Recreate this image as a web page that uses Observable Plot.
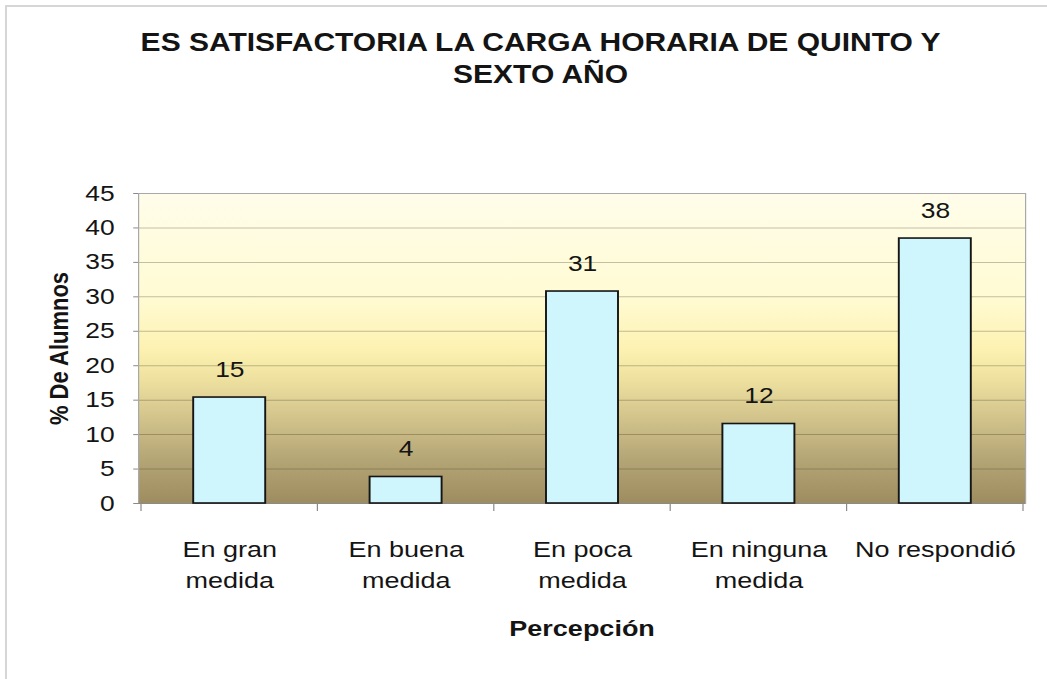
<!DOCTYPE html>
<html><head><meta charset="utf-8">
<script src="https://cdn.jsdelivr.net/npm/d3@7"></script>
<script src="https://cdn.jsdelivr.net/npm/@observablehq/plot@0.6"></script>
<style>
html,body{margin:0;padding:0;background:#fff;}
#chart{position:relative;width:1047px;height:679px;overflow:hidden;}
#chart svg{display:block;}
#border{position:absolute;left:5px;top:5px;right:-10px;bottom:-10px;border-top:2px solid #d6d6d6;border-left:2px solid #d6d6d6;pointer-events:none;}
</style></head><body>
<div id="chart"><div id="border"></div></div>
<script>
const categorias = ["En gran\nmedida", "En buena\nmedida", "En poca\nmedida", "En ninguna\nmedida", "No respondió"];
const porcentajes = [15.38, 3.85, 30.77, 11.54, 38.46];
const etiquetas = ["15", "4", "31", "12", "38"];
const yTicks = [0, 5, 10, 15, 20, 25, 30, 35, 40, 45];
const titulo = ["ES SATISFACTORIA LA CARGA HORARIA DE QUINTO Y", "SEXTO AÑO"];
const tituloY = "% De Alumnos";
const tituloX = "Percepción";

const SX = 1.2;            // the scanned original is stretched horizontally
const W = 1047, H = 679;
const VW = W / SX;
const FONT = "'Liberation Sans', Arial, Helvetica, sans-serif";

const data = categorias.map((c, i) => ({c, v: porcentajes[i], t: etiquetas[i]}));

function gradiente() {
  const defs = d3.create("svg:defs");
  const lg = defs.append("linearGradient").attr("id", "fondo")
    .attr("x1", 0).attr("y1", 0).attr("x2", 0).attr("y2", 1);
  [[0, "#fffdea"], [0.33, "#fffbd4"], [0.5, "#fdf2b2"], [0.6, "#eee19f"],
   [0.7, "#d7c98f"], [0.85, "#b6a777"], [1, "#9d8c5f"]]
    .forEach(([o, c]) => lg.append("stop").attr("offset", o).attr("stop-color", c));
  return defs.node();
}

function ticksX(index, scales) {
  const x = scales.x, y = scales.y;
  const step = x.step(), bw = x.bandwidth();
  const half = (step - bw) / 2;
  const xs = categorias.map(c => x(c) - half);
  xs.push(x(categorias[categorias.length - 1]) + bw + half);
  const g = d3.create("svg:g").attr("stroke", "#8a8a8a").attr("stroke-width", 1);
  const y0 = y(0);
  xs.forEach(px => g.append("line").attr("x1", px).attr("x2", px).attr("y1", y0).attr("y2", y0 + 8));
  return g.node();
}

const chart = Plot.plot({
  width: VW,
  height: H,
  marginTop: 193,
  marginBottom: 176,
  marginLeft: 138 / SX,
  marginRight: 22 / SX,
  style: {fontFamily: FONT, background: "transparent", overflow: "visible"},
  x: {domain: categorias, paddingInner: 0.594, paddingOuter: 0.297, axis: null},
  y: {domain: [0, 45], axis: null},
  marks: [
    gradiente,
    Plot.frame({fill: "url(#fondo)", stroke: null}),
    Plot.gridY(yTicks, {stroke: "#3a321c", strokeOpacity: 0.3, strokeWidth: 1}),
    Plot.frame({stroke: "#a8a8a8", strokeWidth: 1}),
    Plot.ruleY([0], {stroke: "#8a8a8a", strokeWidth: 1}),
    Plot.axisY(yTicks, {tickSize: 4, tickPadding: 16, fontSize: 22, fill: "#141414", stroke: "#8a8a8a", label: null}),
    ticksX,
    Plot.barY(data, {x: "c", y: "v", fill: "#cff6fc", stroke: "#151515", strokeWidth: 1.6}),
    Plot.text(data, {x: "c", y: "v", text: "t", dy: -28, fontSize: 22, fill: "#141414"}),
    Plot.text(data, {x: "c", text: "c", frameAnchor: "bottom", lineAnchor: "top", dy: 31, fontSize: 22.5, lineHeight: 1.38, fill: "#141414"}),
    Plot.text([tituloX], {text: d => d, frameAnchor: "bottom", dy: 132, fontSize: 22.5, fontWeight: "bold", fill: "#141414"}),
    Plot.text([tituloY], {text: d => d, frameAnchor: "left", textAnchor: "middle", dx: 59 / SX - 138 / SX, rotate: -90, fontSize: 22, fontWeight: "bold", fill: "#141414"}),
    Plot.text([titulo.join("\n")], {text: d => d, frameAnchor: "top", dx: 540 / SX - (138 / SX + (VW - 22 / SX)) / 2, dy: -165, lineAnchor: "top", lineHeight: 1.28, fontSize: 25, fontWeight: "bold", fill: "#141414"})
  ]
});

chart.setAttribute("width", W);
chart.setAttribute("height", H);
chart.setAttribute("viewBox", `0 0 ${VW} ${H}`);
chart.setAttribute("preserveAspectRatio", "none");
chart.style.maxWidth = "none";
chart.style.width = W + "px";
chart.style.height = H + "px";
document.getElementById("chart").prepend(chart);
</script>
</body></html>
